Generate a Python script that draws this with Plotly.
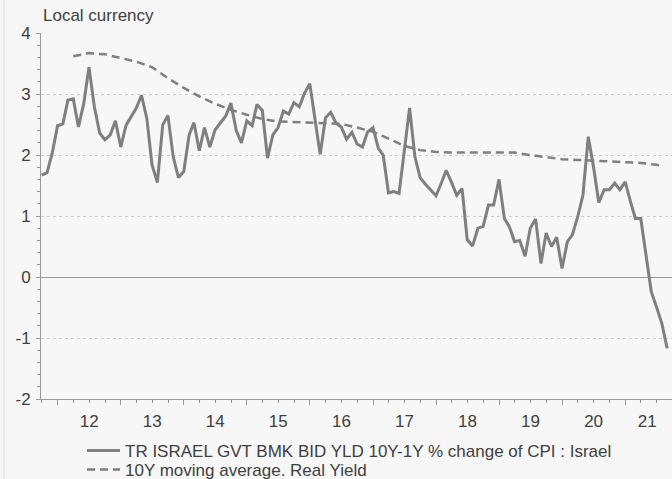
import pandas as pd
import plotly.graph_objects as go

# ---- data ----
dates = pd.date_range("2011-09-30", periods=120, freq="ME")

yield_spread = [
    1.67, 1.71, 2.03, 2.48, 2.51, 2.90, 2.92, 2.46, 2.85, 3.44,
    2.79, 2.36, 2.25, 2.33, 2.56, 2.13, 2.49, 2.63, 2.77, 2.98,
    2.60, 1.84, 1.55, 2.49, 2.65, 1.97, 1.63, 1.73, 2.33, 2.53,
    2.07, 2.45, 2.13, 2.41, 2.52, 2.64, 2.85, 2.40, 2.20, 2.56,
    2.48, 2.83, 2.73, 1.95, 2.33, 2.45, 2.72, 2.67, 2.86, 2.79,
    3.01, 3.17, 2.57, 2.01, 2.61, 2.70, 2.52, 2.46, 2.26, 2.37,
    2.18, 2.13, 2.38, 2.45, 2.11, 2.00, 1.38, 1.40, 1.37, 2.08,
    2.77, 1.97, 1.63, 1.52, 1.43, 1.33, 1.54, 1.75, 1.55, 1.34,
    1.45, 0.61, 0.51, 0.80, 0.83, 1.18, 1.18, 1.60, 0.96, 0.83,
    0.58, 0.60, 0.34, 0.80, 0.95, 0.22, 0.72, 0.50, 0.65, 0.14,
    0.58, 0.69, 0.99, 1.34, 2.30, 1.81, 1.22, 1.43, 1.43, 1.54,
    1.43, 1.56, 1.23, 0.96, 0.96, 0.39, -0.24, -0.49, -0.76, -1.17,
]

ma_idx = [6, 9, 12, 15, 18, 21, 24, 27, 30, 33, 36, 39, 42, 45, 48, 51, 54, 57,
          60, 63, 66, 69, 72, 75, 78, 81, 84, 87, 90, 93, 96, 99, 102, 105, 108,
          111, 114, 117, 118]
ma_values = [3.62, 3.67, 3.65, 3.59, 3.53, 3.44, 3.26, 3.10, 2.96, 2.84, 2.74,
             2.66, 2.59, 2.55, 2.54, 2.54, 2.53, 2.51, 2.45, 2.38, 2.27, 2.15,
             2.08, 2.05, 2.04, 2.04, 2.04, 2.05, 2.04, 2.00, 1.96, 1.93, 1.92,
             1.91, 1.89, 1.88, 1.87, 1.84, 1.82]
ma_dates = [dates[i] for i in ma_idx]

year_labels = ["12", "13", "14", "15", "16", "17", "18", "19", "20", "21"]
year_starts = [f"20{y}-01-01" for y in year_labels]
label_pos = [f"20{y}-07-01" for y in year_labels[:-1]] + ["2021-05-08"]

y_ticks = [-2, -1, 0, 1, 2, 3, 4]
y_tick_labels = ["-2", "-1", "0", "1", "2", "3", "4"]

name1 = "TR ISRAEL GVT BMK BID YLD 10Y-1Y % change of CPI : Israel"
name2 = "10Y moving average. Real Yield"

# ---- figure ----
GREY = "#7f7f7f"
TXT = "#404040"
FONT = "Liberation Sans, Arial, sans-serif"
x_range = ["2011-09-26", "2021-09-28"]

fig = go.Figure()
fig.add_trace(go.Scatter(x=dates, y=yield_spread, mode="lines", name=name1,
                         legend="legend",
                         line=dict(color=GREY, width=3)))
fig.add_trace(go.Scatter(x=ma_dates, y=ma_values, mode="lines", name=name2,
                         legend="legend2",
                         line=dict(color=GREY, width=2.5, dash="8px,5px")))
fig.add_trace(go.Scatter(x=[dates[0]], y=[None], xaxis="x2", showlegend=False,
                         hoverinfo="skip"))

legend_common = dict(x=0.065, xanchor="left", yanchor="top",
                     bgcolor="rgba(0,0,0,0)", font=dict(size=17, color=TXT),
                     itemwidth=33)

fig.update_layout(
    width=672, height=479,
    margin=dict(l=41, r=0, t=33, b=80, autoexpand=False),
    paper_bgcolor="#f7f7f7", plot_bgcolor="#f7f7f7",
    font=dict(family=FONT, size=17, color=TXT),
    xaxis=dict(type="date", range=x_range, tickmode="array", tickvals=year_starts,
               showticklabels=False, ticks="outside", ticklen=5, tickcolor="#999",
               showgrid=False, showline=True, linecolor="#999", zeroline=False,
               automargin=False,
               minor=dict(dtick="M3", tick0="2012-01-01", ticks="outside",
                          ticklen=2.5, tickcolor="#999", showgrid=False)),
    xaxis2=dict(type="date", range=x_range, overlaying="x", anchor="y", side="bottom",
                tickmode="array", tickvals=label_pos, ticktext=year_labels,
                ticks="", showgrid=False, showline=False, zeroline=False,
                automargin=False,
                ticklabelstandoff=10, tickfont=dict(size=17, color=TXT)),
    yaxis=dict(range=[-2, 4], tickmode="array", tickvals=y_ticks,
               ticktext=y_tick_labels, ticks="outside", ticklen=4,
               tickcolor="#999", showline=True, linecolor="#999",
               showgrid=True, gridcolor="#cfcfcf", griddash="dot", gridwidth=1,
               zeroline=True, zerolinecolor="#999", zerolinewidth=1.2,
               automargin=False,
               ticklabelstandoff=2, tickfont=dict(size=17, color=TXT),
               minor=dict(dtick=0.2, tick0=0, ticks="outside", ticklen=3,
                          tickcolor="#999", showgrid=False)),
    legend=dict(y=-0.093, **legend_common),
    legend2=dict(y=-0.145, **legend_common),
    showlegend=True,
    annotations=[dict(text="Local currency", xref="paper", yref="paper",
                      x=0, y=1.049, xanchor="left", yanchor="middle",
                      showarrow=False, font=dict(size=17, color=TXT))],
    shapes=[dict(type="line", xref="paper", yref="paper",
                 x0=-0.0586, x1=-0.0586, y0=-0.22, y1=1.1,
                 line=dict(color="#dcdcdc", width=1))],
)

fig.write_html("out.html", config={"displayModeBar": False},
               post_script="document.body.style.margin='0px';")
